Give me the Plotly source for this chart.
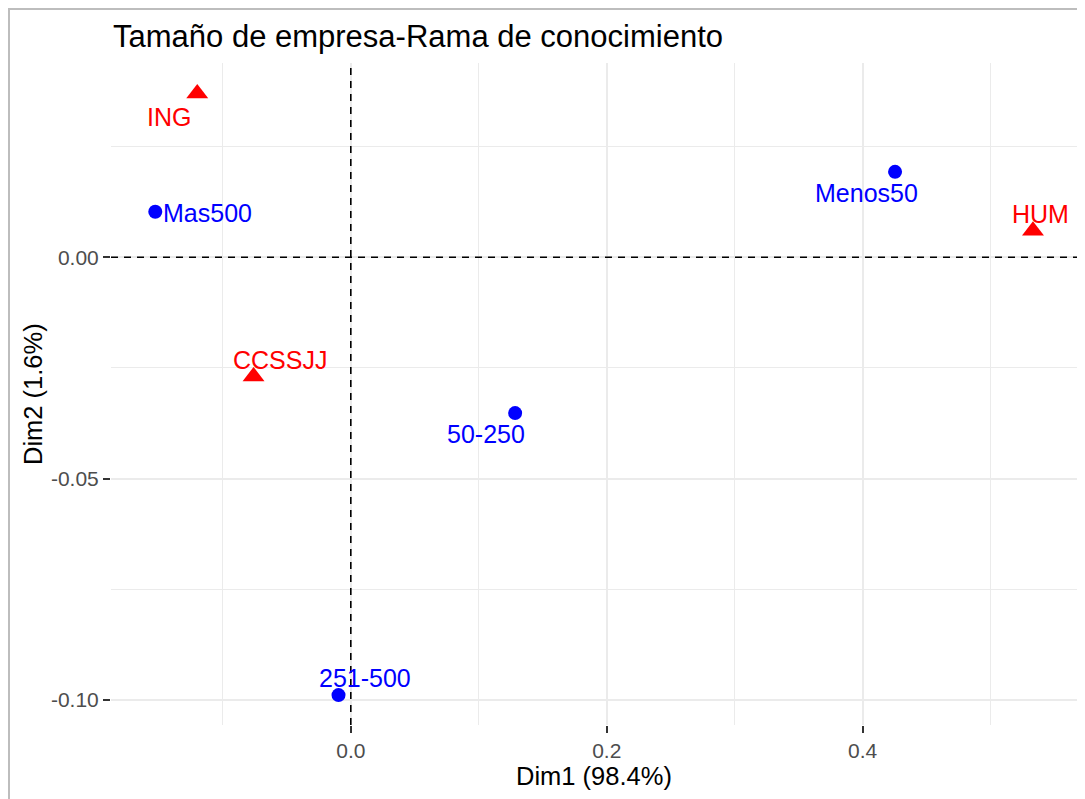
import plotly.graph_objects as go

# ---- data ----
row_names = ["Mas500", "Menos50", "50-250", "251-500"]
row_dim1 = [-0.1528, 0.4253, 0.1284, -0.0096]
row_dim2 = [0.0103, 0.0193, -0.0352, -0.0989]

col_names = ["ING", "CCSSJJ", "HUM"]
col_dim1 = [-0.1200, -0.0760, 0.5331]
col_dim2 = [0.0370, -0.0269, 0.0060]

x_tickvals = [0.0, 0.2, 0.4]
x_ticktext = ["0.0", "0.2", "0.4"]
x_minorvals = [-0.1, 0.1, 0.3, 0.5]
y_tickvals = [-0.10, -0.05, 0.00]
y_ticktext = ["-0.10", "-0.05", "0.00"]
y_minorvals = [-0.075, -0.025, 0.025]

title_text = "Tamaño de empresa-Rama de conocimiento"
x_title = "Dim1 (98.4%)"
y_title = "Dim2 (1.6%)"

# label offsets (pixels) for repel-like placement
row_shift = [(52, -1), (-29, -21), (-29, -21), (26, 17)]
col_shift = [(-28, -23), (26, 16), (8, 17)]

FONT = "Liberation Sans, Arial, sans-serif"
OFF = 8                      # page body margin
PAGE_W, PAGE_H = 1085, 799
W, H = PAGE_W - OFF, PAGE_H - OFF
# panel position in page pixels: left 111, top 63, right 1077, bottom 725
L, T = 111 - OFF, 63 - OFF
R = W - (1077 - OFF)
B = H - (725 - OFF)
pw, ph = W - L - R, H - T - B


def px_x(page_x):
    return (page_x - OFF - L) / pw


def px_y(page_y):
    return (H - B - (page_y - OFF)) / ph


fig = go.Figure()
fig.add_trace(go.Scatter(x=row_dim1, y=row_dim2, mode="markers",
                         marker=dict(color="blue", size=14, symbol="circle"),
                         showlegend=False, hoverinfo="text", text=row_names))
fig.add_trace(go.Scatter(x=col_dim1, y=col_dim2, mode="markers",
                         marker=dict(color="red", size=19, symbol="triangle-up"),
                         showlegend=False, hoverinfo="text", text=col_names))

for n, x, y, (dx, dy) in zip(row_names, row_dim1, row_dim2, row_shift):
    fig.add_annotation(x=x, y=y, text=n, showarrow=False, xshift=dx, yshift=dy,
                       font=dict(family=FONT, size=25, color="blue"))
for n, x, y, (dx, dy) in zip(col_names, col_dim1, col_dim2, col_shift):
    fig.add_annotation(x=x, y=y, text=n, showarrow=False, xshift=dx, yshift=dy,
                       font=dict(family=FONT, size=25, color="red"))

# dashed reference lines
fig.add_shape(type="line", xref="x", yref="paper", x0=0, x1=0, y0=0, y1=1,
              line=dict(color="black", width=1.6, dash="7px,6px"), layer="above")
fig.add_shape(type="line", xref="paper", yref="y", x0=0, x1=1, y0=0, y1=0,
              line=dict(color="black", width=1.6, dash="7px,6px"), layer="above")

# outer border
fig.add_shape(type="rect", xref="paper", yref="paper",
              x0=px_x(OFF + 1), x1=px_x(PAGE_W + 20),
              y0=px_y(PAGE_H + 20), y1=px_y(OFF + 1),
              line=dict(color="#BDBDBD", width=2), fillcolor="rgba(0,0,0,0)")

# titles
fig.add_annotation(xref="paper", yref="paper", x=px_x(111), y=px_y(37),
                   xanchor="left", yanchor="middle", text=title_text, showarrow=False,
                   font=dict(family=FONT, size=31, color="black"))
fig.add_annotation(xref="paper", yref="paper", x=0.5, y=px_y(776),
                   xanchor="center", yanchor="middle", text=x_title, showarrow=False,
                   font=dict(family=FONT, size=25.5, color="black"))
fig.add_annotation(xref="paper", yref="paper", x=px_x(33), y=0.5,
                   xanchor="center", yanchor="middle", text=y_title, showarrow=False,
                   textangle=-90, font=dict(family=FONT, size=25.5, color="black"))

grid_major = dict(showgrid=True, gridcolor="#EBEBEB", gridwidth=2)
fig.update_xaxes(range=[-0.1874, 0.5675], tickmode="array", tickvals=x_tickvals,
                 ticktext=x_ticktext, ticks="outside", ticklen=7, tickwidth=2,
                 tickcolor="#333333", zeroline=False, showline=False,
                 tickfont=dict(family=FONT, size=21, color="#4D4D4D"),
                 minor=dict(tickmode="array", tickvals=x_minorvals, showgrid=True,
                            gridcolor="#EBEBEB", gridwidth=1, ticks=""),
                 **grid_major)
fig.update_yaxes(range=[-0.10565, 0.04389], tickmode="array", tickvals=y_tickvals,
                 ticktext=y_ticktext, ticks="outside", ticklen=7, tickwidth=2,
                 tickcolor="#333333", zeroline=False, showline=False,
                 tickfont=dict(family=FONT, size=21, color="#4D4D4D"),
                 minor=dict(tickmode="array", tickvals=y_minorvals, showgrid=True,
                            gridcolor="#EBEBEB", gridwidth=1, ticks=""),
                 **grid_major)

fig.update_layout(width=W, height=H, margin=dict(l=L, r=R, t=T, b=B),
                  paper_bgcolor="white", plot_bgcolor="white", showlegend=False)

fig.write_html("out.html")
